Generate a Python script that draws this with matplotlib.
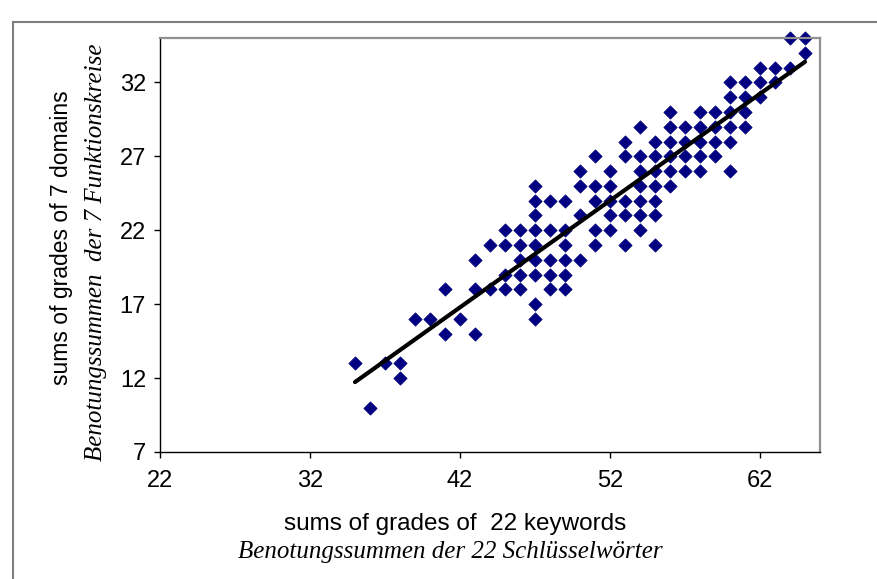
import matplotlib
matplotlib.use("Agg")
import matplotlib.pyplot as plt
import numpy as np
from matplotlib.lines import Line2D

# sums of grades of 22 keywords (x) vs sums of grades of 7 domains (y)
keyword_sums = [
    35, 36, 37, 38, 38, 39, 40, 41, 41, 42,
    43, 43, 43, 44, 44, 45, 45, 45, 45,
    46, 46, 46, 46, 46,
    47, 47, 47, 47, 47, 47, 47, 47, 47,
    48, 48, 48, 48, 48,
    49, 49, 49, 49, 49, 49,
    50, 50, 50, 50,
    51, 51, 51, 51, 51,
    52, 52, 52, 52, 52,
    53, 53, 53, 53, 53,
    54, 54, 54, 54, 54, 54, 54,
    55, 55, 55, 55, 55, 55, 55,
    56, 56, 56, 56, 56, 56,
    57, 57, 57, 57,
    58, 58, 58, 58, 58,
    59, 59, 59, 59,
    60, 60, 60, 60, 60, 60,
    61, 61, 61, 61,
    62, 62, 62, 63, 63, 64, 64, 65, 65,
]
domain_sums = [
    13, 10, 13, 13, 12, 16, 16, 18, 15, 16,
    20, 18, 15, 21, 18, 22, 21, 19, 18,
    22, 21, 20, 19, 18,
    25, 24, 23, 22, 21, 20, 19, 17, 16,
    24, 22, 20, 19, 18,
    24, 22, 21, 20, 19, 18,
    26, 25, 23, 20,
    27, 25, 24, 22, 21,
    26, 25, 24, 23, 22,
    28, 27, 24, 23, 21,
    29, 27, 26, 25, 24, 23, 22,
    28, 27, 26, 25, 24, 23, 21,
    30, 29, 28, 27, 26, 25,
    29, 28, 27, 26,
    30, 29, 28, 27, 26,
    30, 29, 28, 27,
    32, 31, 30, 29, 28, 26,
    32, 31, 30, 29,
    33, 32, 31, 33, 32, 35, 33, 35, 34,
]
x_ticks = [22, 32, 42, 52, 62]
y_ticks = [7, 12, 17, 22, 27, 32]

x = np.array(keyword_sums, dtype=float)
y = np.array(domain_sums, dtype=float)

fig = plt.figure(figsize=(8.77, 5.79), dpi=100)
ax = fig.add_axes([160 / 877, 1 - 452 / 579, 660 / 877, 414 / 579])

ax.scatter(x, y, marker='D', s=46, color='#000080', edgecolors='#000080',
           linewidths=0.5, zorder=2, clip_on=False)

# linear trend line
slope, intercept = np.polyfit(x, y, 1)
xs = np.array([x.min(), x.max()])
ax.plot(xs, slope * xs + intercept, color='black', linewidth=3,
        solid_capstyle='round', zorder=3)

ax.set_xlim(22, 66)
ax.set_ylim(7, 35)
ax.set_xticks(x_ticks)
ax.set_yticks(y_ticks)
ax.tick_params(direction='out', length=4, width=1, labelsize=17, colors='black')
ax.tick_params(axis='x', pad=9)
ax.tick_params(axis='y', pad=6)
for lab in ax.get_xticklabels() + ax.get_yticklabels():
    lab.set_fontfamily('Liberation Sans')

ax.spines['left'].set_color('black')
ax.spines['bottom'].set_color('black')
ax.spines['left'].set_linewidth(1)
ax.spines['bottom'].set_linewidth(1)
for side in ['top', 'right']:
    ax.spines[side].set_color('#909090')
    ax.spines[side].set_linewidth(1.6)

# axis titles (English + German)
fig.text(455 / 877, 1 - 524 / 579, 'sums of grades of  22 keywords',
         ha='center', va='center', fontsize=17.5, family='Liberation Sans')
fig.text(450 / 877, 1 - 552 / 579, 'Benotungssummen der 22 Schlüsselwörter',
         ha='center', va='center', fontsize=18, family='Liberation Serif',
         style='italic')
fig.text(62 / 877, 1 - 238 / 579, 'sums of grades of 7 domains',
         ha='center', va='center', rotation=90, fontsize=16.5,
         family='Liberation Sans')
fig.text(96 / 877, 1 - 252 / 579, 'Benotungssummen  der 7 Funktionskreise',
         ha='center', va='center', rotation=90, fontsize=18,
         family='Liberation Serif', style='italic')

# outer chart border (cropped at right and bottom)
fig.add_artist(Line2D([13 / 877, 13 / 877], [1 - 22 / 579, 0],
                      color='#808080', linewidth=1.5))
fig.add_artist(Line2D([13 / 877, 1], [1 - 22 / 579, 1 - 22 / 579],
                      color='#808080', linewidth=1.5))

fig.savefig('out.png', dpi=100)
